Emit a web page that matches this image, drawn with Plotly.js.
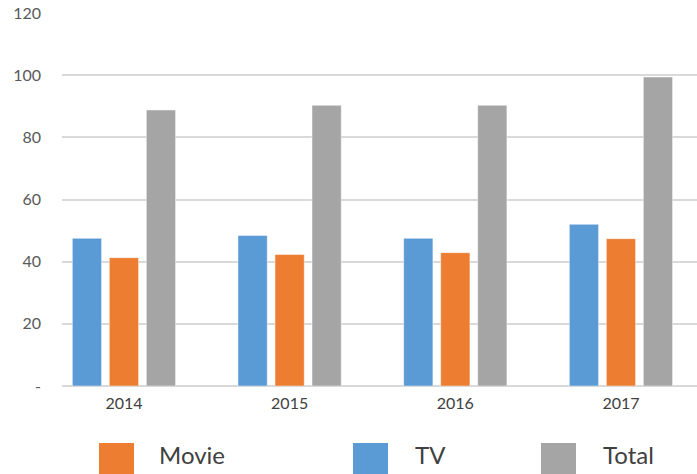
<!DOCTYPE html>
<html>
<head>
<meta charset="utf-8">
<script src="https://cdn.plot.ly/plotly-3.0.1.min.js"></script>
<style>html,body{margin:0;padding:0;background:#fff;}#chart{width:697px;height:474px;}</style>
</head>
<body>
<div id="chart"></div>
<script>
var years = ['2014', '2015', '2016', '2017'];
var tv = [47.5, 48.4, 47.5, 52.0];
var movie = [41.3, 42.3, 42.9, 47.4];
var total = [88.8, 90.3, 90.3, 99.4];
var yTickVals = [0, 20, 40, 60, 80, 100, 120];
var yTickText = ['-', '20', '40', '60', '80', '100', '120'];
var seriesNames = ['TV', 'Movie', 'Total'];
var seriesColors = ['#5b9bd5', '#ed7d31', '#a5a5a5'];
var legendOrder = ['Movie', 'TV', 'Total'];

var W = 697, H = 474, ML = 62, MR = 0, MT = 13, MB = 88;
var PW = W - ML - MR, PH = H - MT - MB;
function px(x) { return (x - ML) / PW; }
function py(y) { return (H - MB - y) / PH; }

var vals = [tv, movie, total];
var traces = seriesNames.map(function (n, i) {
  return {
    type: 'bar', name: n, x: years, y: vals[i],
    marker: { color: seriesColors[i], line: { color: 'rgba(255,255,255,0.45)', width: 1 } },
    hoverinfo: 'x+y+name'
  };
});

// legend drawn as shapes + annotations (large swatches)
var legendX = { 'Movie': [99, 134, 157], 'TV': [353, 388, 413], 'Total': [541, 576, 601] };
var shapes = [], annotations = [];
legendOrder.forEach(function (n) {
  var i = seriesNames.indexOf(n);
  var p = legendX[n];
  shapes.push({ type: 'rect', xref: 'paper', yref: 'paper', x0: px(p[0]), x1: px(p[1]), y0: py(443), y1: py(476),
    fillcolor: seriesColors[i], line: { width: 0 } });
  annotations.push({ xref: 'paper', yref: 'paper', x: px(p[2]), y: py(454), xanchor: 'left', yanchor: 'middle',
    text: n, showarrow: false, font: { family: 'Lato, sans-serif', size: 24, color: '#404040' } });
});

var layout = {
  width: W, height: H,
  margin: { l: ML, r: MR, t: MT, b: MB, pad: 0 },
  paper_bgcolor: '#ffffff', plot_bgcolor: '#ffffff',
  showlegend: false,
  barmode: 'group', bargap: 0.33, bargroupgap: 0.21,
  font: { family: 'Lato, sans-serif', color: '#595959' },
  xaxis: {
    type: 'category', range: [-0.374, 3.459], showgrid: false, zeroline: false,
    showline: false, ticks: '', tickfont: { size: 16, color: '#404040' }, ticklabelstandoff: 6
  },
  yaxis: {
    range: [0, 120], tickvals: yTickVals, ticktext: yTickText,
    showgrid: true, gridcolor: '#d9d9d9', gridwidth: 2, zeroline: true, zerolinecolor: '#d9d9d9', zerolinewidth: 2,
    showline: false, ticks: '', tickfont: { size: 16, color: '#595959' }, ticklabelstandoff: 20
  },
  shapes: shapes, annotations: annotations
};

Plotly.newPlot('chart', traces, layout, { displayModeBar: false, staticPlot: true });
</script>
</body>
</html>
